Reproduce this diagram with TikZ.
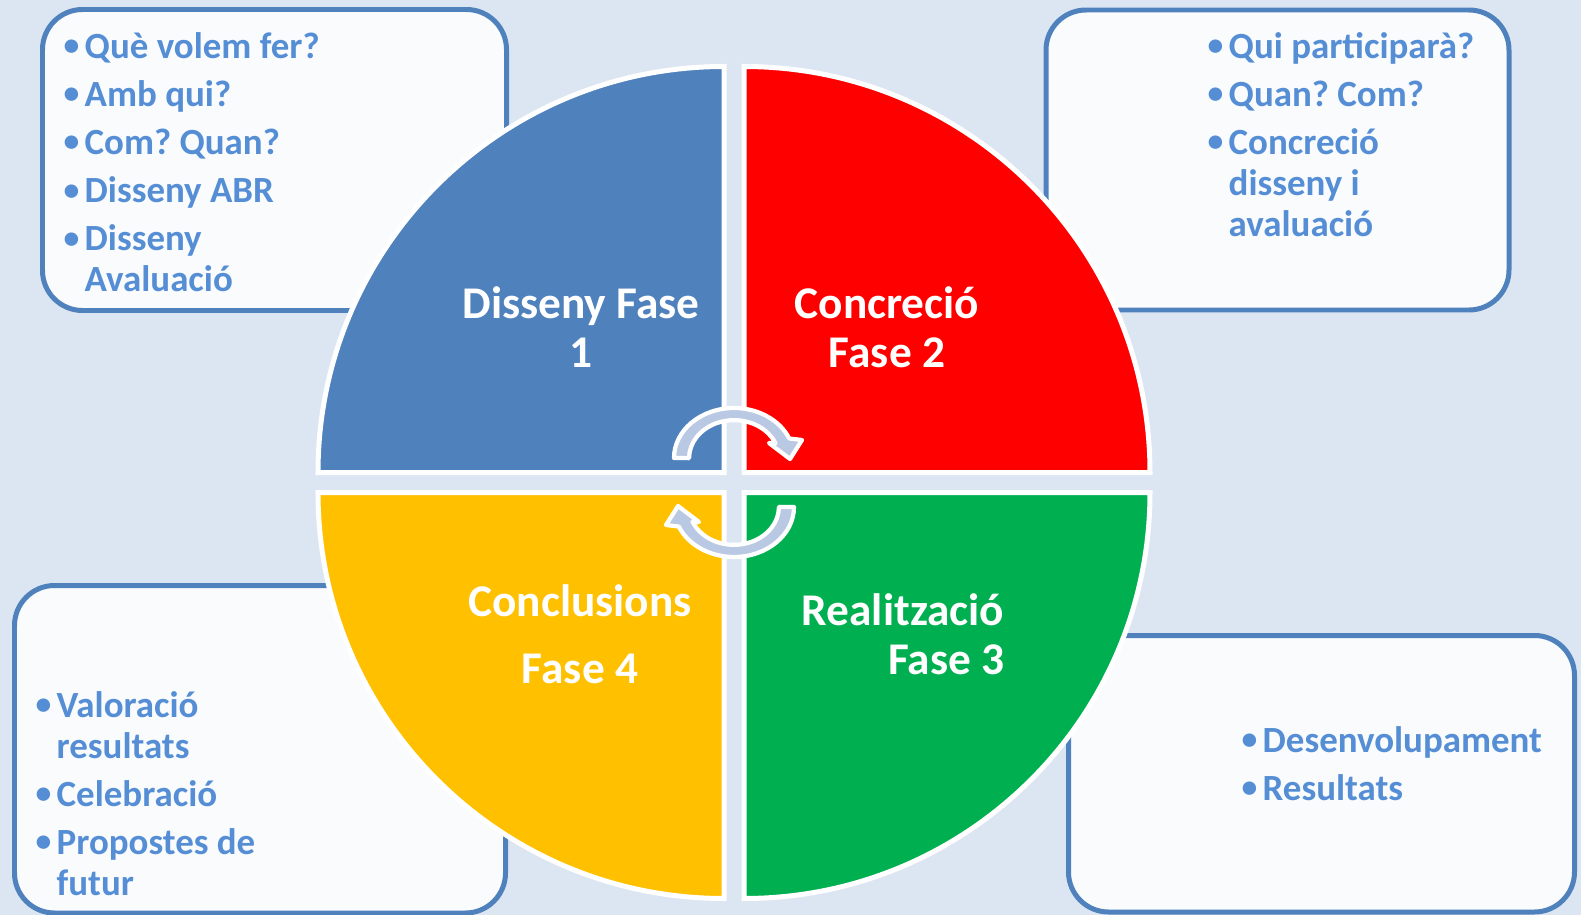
\documentclass[tikz,border=0pt]{standalone}
\usepackage{fontspec}
\setmainfont{Carlito}
\frenchspacing
\definecolor{bgblue}{HTML}{DCE6F2}
\definecolor{boxline}{HTML}{4F81BD}
\definecolor{boxfill}{HTML}{F9FBFD}
\definecolor{itemblue}{HTML}{558ED5}
\definecolor{phaseblue}{HTML}{4F81BD}
\definecolor{phasered}{HTML}{FF0000}
\definecolor{phasegreen}{HTML}{00B050}
\definecolor{phaseyellow}{HTML}{FFC000}
\definecolor{loopblue}{HTML}{B9C8E3}
\newcommand\itembul{\makebox[5.97pt][l]{\raisebox{0.6pt}{\fontsize{9}{9}\selectfont\textbullet}}}
\newcommand\looparrow{%
  \filldraw[loop] (674,458) arc[start angle=180,end angle=337,x radius=60,y radius=50]
    -- (802,440) -- (790,459) -- (769,443) -- (775.5,443.3)
    arc[start angle=337,end angle=180,x radius=45,y radius=38] -- cycle;}
\begin{document}
\begin{tikzpicture}[x=0.01cm,y=-0.01cm,
  infobox/.style={draw=boxline,line width=1.42pt,fill=boxfill,rounded corners=0.4cm},
  quarter/.style={fill=#1,draw=white,line width=1.42pt},
  items/.style={inner sep=0pt,anchor=base west,text=itemblue,font=\fontsize{10.5}{11.66}\selectfont\bfseries},
  phase/.style={inner sep=0pt,text=white,font=\fontsize{12.9}{14.2}\selectfont\bfseries},
  loop/.style={fill=loopblue,draw=white,line width=1.2pt,line join=round}]
\useasboundingbox (0,0) rectangle (1581,915);
\fill[bgblue] (0,0) rectangle (1581,915);
\draw[infobox] (42.5,9.5) rectangle (506.5,310.5);
\draw[infobox] (1046,10) rectangle (1509,310);
\draw[infobox] (14.5,585.5) rectangle (505.5,913);
\draw[infobox] (1068.5,635.5) rectangle (1574.5,912);
\node[items] (planList) at (63,58) {\begin{tabular}[t]{@{}l@{}l@{}}
  \itembul & Què volem fer?\\[2pt]
  \itembul & Amb qui?\\[2pt]
  \itembul & Com? Quan?\\[2pt]
  \itembul & Disseny ABR\\[2pt]
  \itembul & Disseny\\
           & Avaluació\end{tabular}};
\node[items] (concreteList) at (1207,58) {\begin{tabular}[t]{@{}l@{}l@{}}
  \itembul & Qui participarà?\\[2pt]
  \itembul & Quan? Com?\\[2pt]
  \itembul & Concreció\\
           & disseny i\\
           & avaluació\end{tabular}};
\node[items] (closeList) at (35,717) {\begin{tabular}[t]{@{}l@{}l@{}}
  \itembul & Valoració\\
           & resultats\\[2pt]
  \itembul & Celebració\\[2pt]
  \itembul & Propostes de\\
           & futur\end{tabular}};
\node[items] (doList) at (1241,752) {\begin{tabular}[t]{@{}l@{}l@{}}
  \itembul & Desenvolupament\\[2pt]
  \itembul & Resultats\end{tabular}};
\fill[quarter=phaseblue] (724,472.5) -- ++(-406,0) arc[start angle=180,end angle=270,radius=406] -- cycle;
\fill[quarter=phasered] (744,472.5) -- ++(0,-406) arc[start angle=270,end angle=360,radius=406] -- cycle;
\fill[quarter=phasegreen] (744,492.5) -- ++(406,0) arc[start angle=0,end angle=90,radius=406] -- cycle;
\fill[quarter=phaseyellow] (724,492.5) -- ++(0,406) arc[start angle=90,end angle=180,radius=406] -- cycle;
\node[phase,anchor=base] (phase1) at (581,318) {\begin{tabular}[t]{@{}c@{}}Disseny Fase\\1\end{tabular}};
\node[phase,anchor=base] (phase2) at (887,318) {\begin{tabular}[t]{@{}c@{}}Concreció\\Fase 2\end{tabular}};
\node[phase,anchor=base east] (phase3) at (1005,625) {\begin{tabular}[t]{@{}r@{}}Realització\\Fase 3\end{tabular}};
\node[phase,anchor=base] (phase4) at (580,616) {\begin{tabular}[t]{@{}c@{}}Conclusions\\[4.9pt]Fase 4\end{tabular}};
\looparrow
\begin{scope}[rotate around={180:(734,482.5)}]
\looparrow
\end{scope}
\end{tikzpicture}
\end{document}
